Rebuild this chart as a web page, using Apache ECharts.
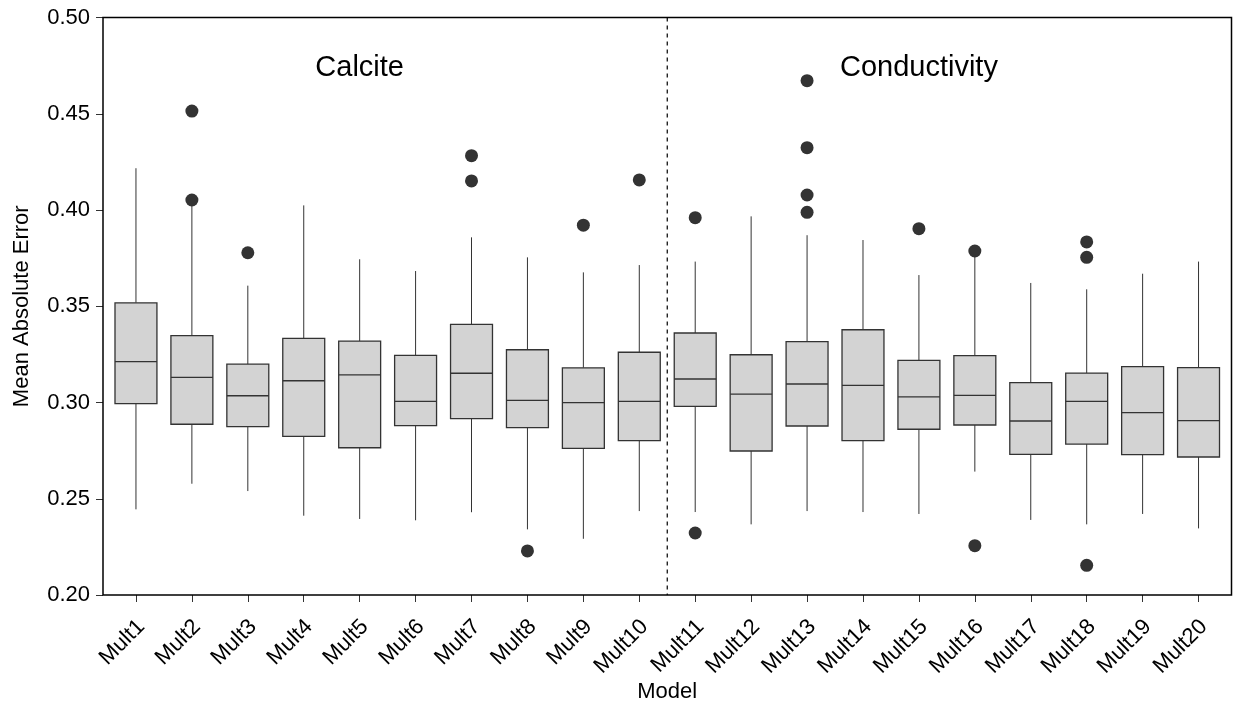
<!DOCTYPE html>
<html>
<head>
<meta charset="utf-8">
<script src="https://cdn.jsdelivr.net/npm/echarts@6/dist/echarts.min.js"></script>
<style>
html,body{margin:0;padding:0;background:#fff;}
#chart{width:1236px;height:705px;}
</style>
</head>
<body>
<div id="chart"></div>
<script>
// ---- data ----
var categories = ['Mult1','Mult2','Mult3','Mult4','Mult5','Mult6','Mult7','Mult8','Mult9','Mult10',
                  'Mult11','Mult12','Mult13','Mult14','Mult15','Mult16','Mult17','Mult18','Mult19','Mult20'];
// [lower whisker, Q1, median, Q3, upper whisker]
var lowerWhisker = [0.2445,0.2578,0.2540,0.2412,0.2395,0.2388,0.2430,0.2341,0.2292,0.2436,
                    0.2431,0.2367,0.2436,0.2431,0.2421,0.2641,0.2390,0.2367,0.2421,0.2346];
var q1Values     = [0.2994,0.2887,0.2875,0.2824,0.2765,0.2880,0.2916,0.2869,0.2762,0.2802,
                    0.2980,0.2748,0.2878,0.2802,0.2861,0.2883,0.2731,0.2784,0.2729,0.2717];
var medianValues = [0.3212,0.3131,0.3035,0.3113,0.3144,0.3006,0.3152,0.3011,0.2999,0.3006,
                    0.3122,0.3043,0.3096,0.3089,0.3029,0.3037,0.2904,0.3006,0.2947,0.2906];
var q3Values     = [0.3518,0.3347,0.3199,0.3333,0.3319,0.3245,0.3406,0.3274,0.3180,0.3261,
                    0.3361,0.3248,0.3316,0.3378,0.3219,0.3243,0.3103,0.3153,0.3186,0.3181];
var upperWhisker = [0.4217,0.4040,0.3607,0.4024,0.3744,0.3683,0.3858,0.3754,0.3676,0.3714,
                    0.3732,0.3967,0.3869,0.3844,0.3662,0.3775,0.3621,0.3588,0.3669,0.3732];
// outliers: [category index, value]
var outliers = [[1,0.4514],[1,0.4052],[2,0.3778],[6,0.4282],[6,0.4151],[7,0.2229],[8,0.3921],[9,0.4156],
                [10,0.3960],[10,0.2322],[12,0.4672],[12,0.4324],[12,0.4078],[12,0.3988],[14,0.3903],
                [15,0.3787],[15,0.2256],[17,0.3834],[17,0.3754],[17,0.2154]];
var yTicks = [0.20,0.25,0.30,0.35,0.40,0.45,0.50];
var groupLabels = [[4,0.4737,'Calcite'],[14,0.4737,'Conductivity']];
var dividerPosition = [9,10]; // dashed line between these categories

var boxData = categories.map(function(c,i){
  return [i, lowerWhisker[i], q1Values[i], medianValues[i], q3Values[i], upperWhisker[i]];
});

var chart = echarts.init(document.getElementById('chart'), null, {renderer:'canvas'});
var GL = 108, GR = 1226.5, GT = 17.5, GB = 595;

var option = {
  animation:false,
  backgroundColor:'#ffffff',
  textStyle:{fontFamily:'Liberation Sans, Arial, sans-serif'},
  grid:{left:GL, right:1236-GR, top:GT, bottom:705-GB, containLabel:false, outerBoundsMode:'none'},
  graphic:[{
    type:'rect', z:50, silent:true,
    shape:{x:103, y:GT, width:1231.5-103, height:GB-GT},
    style:{fill:'none', stroke:'#000', lineWidth:1.5}
  }],
  xAxis:{
    type:'category', data:categories, boundaryGap:true,
    name:'Model', nameLocation:'middle', nameGap:86, nameMoveOverlap:false,
    nameTextStyle:{fontSize:22, color:'#000'},
    axisLine:{show:false},
    axisTick:{show:true, alignWithLabel:true, length:7, lineStyle:{color:'#333', width:1}},
    axisLabel:{rotate:45, fontSize:22, color:'#000', margin:23, verticalAlign:'top', lineHeight:15, interval:0},
    splitLine:{show:false}
  },
  yAxis:{
    type:'value', min:yTicks[0], max:yTicks[yTicks.length-1], interval:0.05, offset:5,
    name:'Mean Absolute Error', nameLocation:'middle', nameGap:70,
    nameTextStyle:{fontSize:22, color:'#000'},
    axisLine:{show:false},
    axisTick:{show:true, length:7, lineStyle:{color:'#333', width:1}},
    axisLabel:{fontSize:22, color:'#000', margin:13,
      formatter:function(v){ return v.toFixed(2); }},
    splitLine:{show:false}
  },
  series:[
    {
      type:'custom',
      data:boxData,
      encode:{x:0, y:[1,2,3,4,5]},
      renderItem:function(params, api){
        var i = api.value(0);
        var lo = api.coord([i, api.value(1)]);
        var q1 = api.coord([i, api.value(2)]);
        var md = api.coord([i, api.value(3)]);
        var q3 = api.coord([i, api.value(4)]);
        var hi = api.coord([i, api.value(5)]);
        var bw = api.size([1,0])[0]*0.75;
        var x = lo[0];
        return {
          type:'group',
          children:[
            {type:'line', shape:{x1:x, y1:hi[1], x2:x, y2:q3[1]}, style:{stroke:'#333', lineWidth:1}},
            {type:'line', shape:{x1:x, y1:q1[1], x2:x, y2:lo[1]}, style:{stroke:'#333', lineWidth:1}},
            {type:'rect', shape:{x:x-bw/2, y:q3[1], width:bw, height:q1[1]-q3[1]},
              style:{fill:'#d3d3d3', stroke:'#333', lineWidth:1.3}},
            {type:'line', shape:{x1:x-bw/2, y1:md[1], x2:x+bw/2, y2:md[1]}, style:{stroke:'#333', lineWidth:1.3}}
          ]
        };
      }
    },
    {
      type:'scatter',
      data:outliers,
      symbol:'circle', symbolSize:13,
      itemStyle:{color:'#333333', opacity:1}
    },
    {
      type:'custom',
      data:[dividerPosition],
      renderItem:function(params, api){
        var a = api.coord([api.value(0), 0.5]);
        var b = api.coord([api.value(1), 0.2]);
        var x = (a[0]+b[0])/2;
        return {type:'line', shape:{x1:x, y1:a[1], x2:x, y2:b[1]},
          style:{stroke:'#000', lineWidth:1.2, lineDash:[4,4]}};
      }
    },
    {
      type:'custom',
      data:groupLabels,
      renderItem:function(params, api){
        var p = api.coord([api.value(0), api.value(1)]);
        return {type:'text', x:p[0], y:p[1],
          style:{text:groupLabels[params.dataIndex][2], fontSize:29, fill:'#000',
            align:'center', verticalAlign:'middle', fontFamily:'Liberation Sans, Arial, sans-serif'}};
      }
    }
  ]
};
chart.setOption(option);
</script>
</body>
</html>
